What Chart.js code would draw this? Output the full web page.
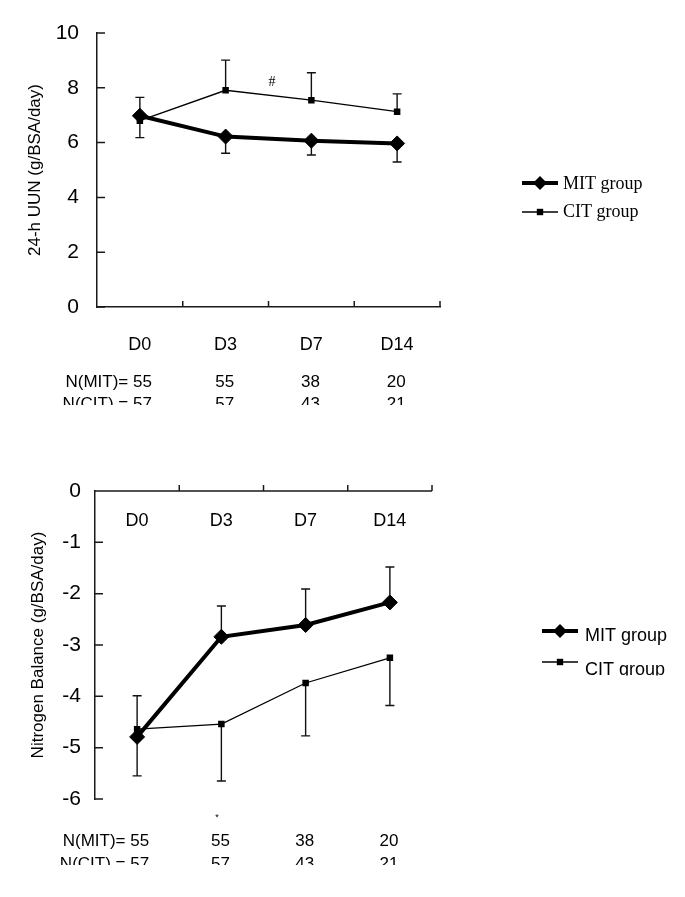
<!DOCTYPE html>
<html>
<head>
<meta charset="utf-8">
<script src="https://cdn.jsdelivr.net/npm/chart.js@4.4.1/dist/chart.umd.min.js"></script>
<style>
  body { margin: 0; background: #fff; width: 685px; height: 897px; position: relative; overflow: hidden; }
  canvas { position: absolute; left: 0; }
  #uun { top: 0; }
  #nb { top: 440px; }
</style>
</head>
<body>
<canvas id="uun" width="685" height="440"></canvas>
<canvas id="nb" width="685" height="457"></canvas>
<script>
const days = ['D0', 'D3', 'D7', 'D14'];
const nMit = [55, 55, 38, 20];
const nCit = [57, 57, 43, 21];

// 24-h UUN (g/BSA/day)
const uunMit = [6.98, 6.22, 6.07, 5.97];
const uunMitSd = [0.80, 0.61, 0.52, 0.68];   // drawn downward
const uunCit = [6.80, 7.91, 7.55, 7.13];
const uunCitSd = [0.85, 1.10, 1.00, 0.65];   // drawn upward
const uunTicks = [0, 2, 4, 6, 8, 10];

// Nitrogen balance (g/BSA/day)
const nbMit = [-4.79, -2.84, -2.61, -2.17];
const nbMitSd = [0.80, 0.60, 0.70, 0.69];    // drawn upward
const nbCit = [-4.64, -4.54, -3.74, -3.25];
const nbCitSd = [0.91, 1.11, 1.03, 0.93];    // drawn downward
const nbTicks = [-6, -5, -4, -3, -2, -1, 0];

const SANS = '"Liberation Sans", Arial, sans-serif';
const SERIF = '"Liberation Serif", "Times New Roman", serif';
const AXIS = '#1a1a1a';

function errorBars(sets) {
  return {
    id: 'errorBars',
    beforeDatasetsDraw(chart) {
      const { ctx, scales: { x, y } } = chart;
      ctx.save();
      ctx.strokeStyle = '#111';
      ctx.lineWidth = 1.4;
      sets.forEach(s => {
        s.data.forEach((v, i) => {
          const px = x.getPixelForValue(i);
          const y0 = y.getPixelForValue(v);
          const y1 = y.getPixelForValue(v + s.dir * s.sd[i]);
          ctx.beginPath();
          ctx.moveTo(px, y0); ctx.lineTo(px, y1);
          ctx.moveTo(px - 4.5, y1); ctx.lineTo(px + 4.5, y1);
          ctx.stroke();
        });
      });
      ctx.restore();
    }
  };
}

function innerTicks(o) {
  return {
    id: 'innerTicks',
    afterDraw(chart) {
      const { ctx, chartArea: a, scales: { x, y } } = chart;
      ctx.save();
      ctx.strokeStyle = AXIS;
      ctx.lineWidth = 1.5;
      ctx.beginPath();
      y.ticks.forEach(t => {
        const py = y.getPixelForValue(t.value);
        ctx.moveTo(a.left, py); ctx.lineTo(a.left + 8, py);
      });
      const ay = y.getPixelForValue(0);
      if (o.drawXLine) { ctx.moveTo(a.left, ay); ctx.lineTo(a.right, ay); }
      const half = (x.getPixelForValue(1) - x.getPixelForValue(0)) / 2;
      for (let i = 0; i < days.length; i++) {
        const px = x.getPixelForValue(i) + half;
        ctx.moveTo(px, ay); ctx.lineTo(px, ay - 6);
      }
      ctx.stroke();
      ctx.restore();
    }
  };
}

function nRows(o) {
  return {
    id: 'nRows',
    afterDraw(chart) {
      const { ctx, scales: { x } } = chart;
      ctx.save();
      ctx.fillStyle = '#000';
      ctx.font = '17px ' + SANS;
      ctx.textBaseline = 'alphabetic';
      if (o.dayLabels) {
        ctx.font = '18px ' + SANS;
        ctx.textAlign = 'center';
        days.forEach((d, i) => ctx.fillText(d, x.getPixelForValue(i), o.dayLabels));
        ctx.font = '17px ' + SANS;
      }
      ctx.beginPath();
      ctx.rect(0, 0, chart.width, o.clip);
      ctx.clip();
      [[nMit, 'N(MIT)= ', o.rows[0]], [nCit, 'N(CIT) = ', o.rows[1]]].forEach(([arr, lab, by]) => {
        arr.forEach((n, i) => {
          const px = x.getPixelForValue(i);
          if (i === 0) {
            ctx.textAlign = 'right';
            ctx.fillText(lab + n, px + 12, by);
          } else {
            ctx.textAlign = 'center';
            ctx.fillText(String(n), px - 1, by);
          }
        });
      });
      ctx.restore();
    }
  };
}

function legendBox(o) {
  return {
    id: 'legendBox',
    afterDraw(chart) {
      const ctx = chart.ctx;
      ctx.save();
      ctx.fillStyle = '#000';
      ctx.strokeStyle = '#000';
      // MIT
      ctx.lineWidth = 4;
      ctx.beginPath(); ctx.moveTo(o.x0, o.y[0]); ctx.lineTo(o.x1, o.y[0]); ctx.stroke();
      const cx = (o.x0 + o.x1) / 2;
      ctx.beginPath();
      ctx.moveTo(cx - 7, o.y[0]); ctx.lineTo(cx, o.y[0] - 7); ctx.lineTo(cx + 7, o.y[0]); ctx.lineTo(cx, o.y[0] + 7);
      ctx.closePath(); ctx.fill();
      // CIT
      ctx.lineWidth = 1.3;
      ctx.beginPath(); ctx.moveTo(o.x0, o.y[1]); ctx.lineTo(o.x1, o.y[1]); ctx.stroke();
      ctx.fillRect(cx - 3.2, o.y[1] - 3.2, 6.4, 6.4);
      ctx.font = o.font;
      ctx.textAlign = 'left';
      ctx.textBaseline = 'alphabetic';
      ctx.fillText('MIT group', o.tx, o.y[0] + o.dy[0]);
      ctx.beginPath(); ctx.rect(0, 0, chart.width, o.clip); ctx.clip();
      ctx.fillText('CIT group', o.tx, o.y[1] + o.dy[1]);
      ctx.restore();
    }
  };
}

function marks(list) {
  return {
    id: 'marks',
    afterDraw(chart) {
      const ctx = chart.ctx;
      ctx.save();
      ctx.fillStyle = '#000';
      ctx.textAlign = 'center';
      ctx.textBaseline = 'middle';
      list.forEach(m => { ctx.font = m.font; ctx.fillText(m.t, m.x, m.y); });
      ctx.restore();
    }
  };
}

function datasets(mit, cit) {
  return [
    {
      label: 'MIT group', data: mit,
      borderColor: '#000', backgroundColor: '#000', borderWidth: 4,
      pointStyle: 'rectRot', pointRadius: 7.5, pointBorderWidth: 1
    },
    {
      label: 'CIT group', data: cit,
      borderColor: '#000', backgroundColor: '#000', borderWidth: 1.3,
      pointStyle: 'rect', pointRadius: 4.6, pointBorderWidth: 0
    }
  ];
}

function yTitle(text, pad) {
  return { display: true, text, color: '#000', font: { family: SANS, size: 17 }, padding: { top: pad, bottom: 0 } };
}

// top chart
new Chart(document.getElementById('uun'), {
  type: 'line',
  data: { labels: days, datasets: datasets(uunMit, uunCit) },
  options: {
    responsive: false, animation: false, devicePixelRatio: 1,
    layout: { padding: { left: 0, right: 245, top: 33, bottom: 0 } },
    plugins: { legend: { display: false }, tooltip: { enabled: false } },
    scales: {
      x: {
        offset: true,
        grid: { display: false, drawTicks: false },
        border: { display: true, color: AXIS, width: 1.5 },
        ticks: { color: '#000', font: { family: SANS, size: 18 }, padding: 27 },
        afterFit: s => { s.height = 133; }
      },
      y: {
        min: 0, max: 10,
        afterBuildTicks: s => { s.ticks = uunTicks.map(v => ({ value: v })); },
        grid: { display: false, drawTicks: false },
        border: { display: true, color: AXIS, width: 1.5 },
        ticks: { color: '#000', font: { family: SANS, size: 21 }, padding: 18 },
        title: yTitle('24-h UUN (g/BSA/day)', 25),
        afterFit: s => { s.width = 97; }
      }
    }
  },
  plugins: [
    errorBars([{ data: uunMit, sd: uunMitSd, dir: -1 }, { data: uunCit, sd: uunCitSd, dir: 1 }]),
    innerTicks({ drawXLine: false }),
    nRows({ rows: [387, 409], clip: 405 }),
    legendBox({ x0: 522, x1: 558, y: [183, 212], tx: 563, dy: [6, 5], font: '18px ' + SERIF, clip: 440 }),
    marks([{ t: '#', x: 272, y: 82, font: '14px ' + SERIF }])
  ]
});

// bottom chart
new Chart(document.getElementById('nb'), {
  type: 'line',
  data: { labels: days, datasets: datasets(nbMit, nbCit) },
  options: {
    responsive: false, animation: false, devicePixelRatio: 1,
    layout: { padding: { left: 0, right: 253, top: 51, bottom: 98 } },
    plugins: { legend: { display: false }, tooltip: { enabled: false } },
    scales: {
      x: { offset: true, display: false },
      y: {
        min: -6, max: 0,
        afterBuildTicks: s => { s.ticks = nbTicks.map(v => ({ value: v })); },
        grid: { display: false, drawTicks: false },
        border: { display: true, color: AXIS, width: 1.5 },
        ticks: { color: '#000', font: { family: SANS, size: 21 }, padding: 14 },
        title: yTitle('Nitrogen Balance (g/BSA/day)', 28),
        afterFit: s => { s.width = 95; }
      }
    }
  },
  plugins: [
    errorBars([{ data: nbMit, sd: nbMitSd, dir: 1 }, { data: nbCit, sd: nbCitSd, dir: -1 }]),
    innerTicks({ drawXLine: true }),
    nRows({ rows: [406, 429], clip: 425, dayLabels: 86 }),
    legendBox({ x0: 542, x1: 578, y: [191, 222], tx: 585, dy: [10, 13], font: '18px ' + SANS, clip: 235.5 }),
    marks([{ t: '*', x: 217, y: 378, font: '9px ' + SANS }])
  ]
});
</script>
</body>
</html>
